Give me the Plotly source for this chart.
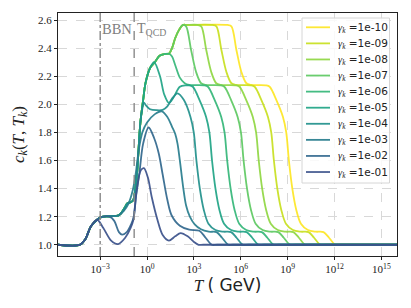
import plotly.graph_objects as go

# ---- data (x values are log10(T / GeV)) ----
gammas = ["1e-10", "1e-09", "1e-08", "1e-07", "1e-06", "1e-05", "1e-04", "1e-03", "1e-02", "1e-01"]
colors = ["#fde725", "#c8e020", "#90d743", "#5ec962", "#35b779",
          "#20a486", "#21918c", "#287d8e", "#31688e", "#3b528b"]

start_x = [-5.7, -4.3, -3.95, -3.6, -3.2]
start_y = [1.0, 1.0, 1.04, 1.13, 1.178]
plat_x = [-2.9, -2.4, -1.8]
plat_y = [1.198, 1.203, 1.21]
step_x = [-1.5, -1.25, -1.05, -0.88, -0.75, -0.64, -0.43]
step_y = [1.25, 1.295, 1.302, 1.32, 1.40, 1.51, 1.866]
rise_x = [-0.25, -0.1, 0.2, 0.5]
rise_y = [2.03, 2.15, 2.26, 2.30]
shelf_x = [0.8, 1.1, 1.4]
shelf_y = [2.345, 2.358, 2.36]
top_x = [1.6, 1.8, 2.05, 2.3]
top_y = [2.40, 2.47, 2.53, 2.565]

env_x = start_x + plat_x + step_x + rise_x + shelf_x + top_x
env_y = start_y + plat_y + step_y + rise_y + shelf_y + top_y

tail_y_long = [2.565, 2.565, 2.555, 2.387, 2.23, 2.15, 2.138, 2.135, 2.125, 2.03, 1.91,
               1.80, 1.6, 1.4, 1.25, 1.15, 1.105, 1.093, 1.09, 1.05, 1.0, 1.0, 1.0]

x_g10 = env_x + [2.55, 5.15, 5.4, 5.72, 6.04, 6.36, 6.65, 7.6, 7.85, 8.28, 8.7, 8.91, 9.08,
                 9.3, 9.55, 9.85, 10.3, 10.8, 11.3, 11.65, 12.05, 12.4, 16]
y_g10 = env_y + tail_y_long
x_g09 = env_x + [2.55, 4.19, 4.44, 4.76, 5.08, 5.40, 5.69, 6.64, 6.89, 7.32, 7.74, 7.95, 8.12,
                 8.34, 8.59, 8.89, 9.34, 9.84, 10.34, 10.69, 11.09, 11.44, 16]
y_g09 = env_y + tail_y_long
x_g08 = env_x + [2.55, 3.22, 3.47, 3.79, 4.11, 4.43, 4.72, 5.67, 5.92, 6.35, 6.77, 6.98, 7.15,
                 7.37, 7.62, 7.92, 8.37, 8.87, 9.37, 9.72, 10.12, 10.47, 16]
y_g08 = env_y + tail_y_long
x_g07 = env_x + [2.5, 2.82, 3.14, 3.46, 3.75, 4.7, 4.95, 5.38, 5.8, 6.01, 6.18, 6.4, 6.65,
                 6.95, 7.4, 7.9, 8.4, 8.75, 9.15, 9.5, 16]
y_g07 = env_y + [2.555, 2.387, 2.23, 2.15, 2.138, 2.135, 2.125, 2.03, 1.91, 1.80, 1.6, 1.4,
                 1.25, 1.15, 1.105, 1.093, 1.09, 1.05, 1.0, 1.0, 1.0]
x_g06 = start_x + plat_x + step_x + rise_x + shelf_x + [
    1.6, 1.8, 2.1, 2.41, 2.7, 3.65, 3.9, 4.33, 4.75, 4.96, 5.13, 5.35, 5.6, 5.9, 6.35,
    6.85, 7.35, 7.7, 8.1, 8.45, 16]
y_g06 = start_y + plat_y + step_y + rise_y + shelf_y + [
    2.34, 2.28, 2.19, 2.15, 2.138, 2.135, 2.125, 2.03, 1.91, 1.80, 1.6, 1.4, 1.25, 1.15,
    1.105, 1.093, 1.09, 1.05, 1.0, 1.0, 1.0]
x_g05 = start_x + plat_x + step_x + [-0.25, -0.1, 0.2, 0.45, 0.83, 1.1, 1.4, 1.7, 2.1, 2.5,
                                     2.68, 2.93, 3.36, 3.78, 3.99, 4.16, 4.38, 4.63, 4.93,
                                     5.38, 5.88, 6.38, 6.73, 7.13, 7.5, 16]
y_g05 = start_y + plat_y + step_y + [2.03, 2.15, 2.26, 2.30, 2.2, 2.07, 2.01, 2.05, 2.125,
                                     2.135, 2.135, 2.125, 2.03, 1.91, 1.80, 1.6, 1.4, 1.25,
                                     1.15, 1.105, 1.093, 1.09, 1.05, 1.0, 1.0, 1.0]
x_g04 = start_x + plat_x + step_x + [-0.3, -0.2, -0.05, 0.2, 0.6, 1.0, 1.3, 1.6, 1.95, 2.36,
                                     2.78, 2.99, 3.16, 3.38, 3.63, 3.93, 4.38, 4.88, 5.38,
                                     5.73, 6.13, 6.5, 16]
y_g04 = start_y + plat_y + step_y + [1.97, 2.012, 1.99, 1.965, 1.958, 1.96, 1.985, 2.04,
                                     2.078, 2.03, 1.91, 1.80, 1.6, 1.4, 1.25, 1.15, 1.105,
                                     1.093, 1.09, 1.05, 1.0, 1.0, 1.0]
x_g03 = start_x + plat_x + [-1.5, -1.2, -0.91, -0.72, -0.53, -0.3, 0.0, 0.5, 0.95, 1.3, 1.6,
                            1.8, 1.95, 2.1, 2.3, 2.5, 2.74, 3.05, 3.45, 3.95, 4.45, 4.8,
                            5.2, 5.5, 16]
y_g03 = start_y + plat_y + [1.24, 1.29, 1.39, 1.51, 1.676, 1.80, 1.87, 1.93, 1.95, 1.91,
                            1.84, 1.79, 1.72, 1.6, 1.42, 1.28, 1.2, 1.145, 1.11, 1.093,
                            1.09, 1.05, 1.0, 1.0, 1.0]
x_g02 = start_x + [-2.9, -2.4, -2.1, -1.8, -1.6, -1.3, -1.0, -0.87, -0.7, -0.49, -0.25, 0.1,
                   0.45, 0.75, 1.0, 1.3, 1.57, 2.1, 2.7, 3.35, 3.75, 4.15, 4.5, 16]
y_g02 = start_y + [1.198, 1.2, 1.17, 1.09, 1.072, 1.09, 1.15, 1.19, 1.35, 1.51, 1.72, 1.835,
                   1.76, 1.65, 1.5, 1.32, 1.21, 1.135, 1.107, 1.1, 1.05, 1.0, 1.0, 1.0]
x_g01 = start_x + [-2.8, -2.3, -1.85, -1.4, -1.05, -0.87, -0.66, -0.4, -0.2, 0.05, 0.3, 0.66,
                   1.0, 1.4, 1.8, 2.15, 2.6, 3.0, 3.3, 3.6, 16]
y_g01 = start_y + [1.12, 1.03, 1.005, 1.05, 1.12, 1.18, 1.39, 1.53, 1.545, 1.48, 1.34, 1.18,
                   1.07, 1.03, 1.06, 1.083, 1.06, 1.02, 1.0, 1.0, 1.0]

curves_x = [x_g10, x_g09, x_g08, x_g07, x_g06, x_g05, x_g04, x_g03, x_g02, x_g01]
curves_y = [y_g10, y_g09, y_g08, y_g07, y_g06, y_g05, y_g04, y_g03, y_g02, y_g01]

T_BBN = 1e-3
T_QCD = 0.15
y_range = [0.92, 2.65]
x_range_log = [-5.7, 16]
xtick_exp = [-3, 0, 3, 6, 9, 12, 15]
ytick_vals = [1.0, 1.2, 1.4, 1.6, 1.8, 2.0, 2.2, 2.4, 2.6]

serif = "Liberation Serif, DejaVu Serif, serif"

# ---- layout geometry (page body adds an 8px offset) ----
W, H = 403, 300
ML, MR, MT, MB = 50, 14, 5, 52
PW, PH = W - ML - MR, H - MT - MB


def px(x):  # window px -> paper x
    return (x - 8 - ML) / PW


def py(y):  # window px -> paper y
    return (H - MB - (y - 8)) / PH


fig = go.Figure()
for g, col, xs, ys in zip(gammas, colors, curves_x, curves_y):
    fig.add_trace(go.Scatter(
        x=[10 ** v for v in xs], y=ys, mode="lines",
        line=dict(color=col, width=1.8, shape="spline", smoothing=0.9),
        name="γk =" + g, opacity=0.92, showlegend=False))

fig.add_trace(go.Scatter(x=[T_BBN, T_BBN], y=y_range, mode="lines", showlegend=False,
                         line=dict(color="#8a8a8a", width=1.4, dash="dashdot"), hoverinfo="skip"))
fig.add_trace(go.Scatter(x=[T_QCD, T_QCD], y=y_range, mode="lines", showlegend=False,
                         line=dict(color="#8a8a8a", width=1.4, dash="dash"), hoverinfo="skip"))

fig.add_annotation(x=-3.0, y=2.535, xref="x", yref="y", text="BBN", showarrow=False,
                   xanchor="left", yanchor="middle",
                   font=dict(family=serif, size=14.5, color="#808080"))
fig.add_annotation(x=-0.76, y=2.535, xref="x", yref="y", text="T<sub>QCD</sub>", showarrow=False,
                   xanchor="left", yanchor="middle",
                   font=dict(family=serif, size=14, color="#808080"))

# ---- legend box drawn as shapes + text ----
fig.add_shape(type="rect", xref="paper", yref="paper",
              x0=px(302), x1=px(389.5), y0=py(183), y1=py(18),
              line=dict(color="#d6d6d6", width=1), fillcolor="rgba(255,255,255,0.85)",
              layer="above")
for i, (g, col) in enumerate(zip(gammas, colors)):
    yc = 27.3 + 16.08 * i
    fig.add_shape(type="line", xref="paper", yref="paper",
                  x0=px(306), x1=px(330), y0=py(yc), y1=py(yc),
                  line=dict(color=col, width=1.8), opacity=0.92, layer="above")
    fig.add_annotation(xref="paper", yref="paper", x=px(336), y=py(yc + 0.5),
                       xanchor="left", yanchor="middle", showarrow=False,
                       text="<span style='font-family:Liberation Serif'><i>γ<sub>k</sub></i></span> =" + g,
                       font=dict(family="DejaVu Sans, sans-serif", size=10.5, color="#222"))

fig.update_layout(
    width=W, height=H,
    margin=dict(l=ML, r=MR, t=MT, b=MB),
    paper_bgcolor="white", plot_bgcolor="white",
    font=dict(family=serif, size=11, color="#222"),
    showlegend=False,
)
fig.update_xaxes(type="log", range=x_range_log, automargin=False,
                 tickvals=[10.0 ** e for e in xtick_exp],
                 ticktext=["10<sup>%s</sup>" % (str(e).replace("-", "−")) for e in xtick_exp],
                 showline=True, linecolor="#222", linewidth=1, mirror=True,
                 ticks="outside", ticklen=3, tickcolor="#222",
                 showgrid=True, gridcolor="#d8d8d8", griddash="dash", gridwidth=0.8,
                 zeroline=False, tickfont=dict(family=serif, size=11),
                 title=dict(text="<i>T</i> <span style='font-family:DejaVu Sans'>( GeV)</span>",
                            font=dict(family=serif, size=17), standoff=4))
fig.update_yaxes(range=y_range, tickvals=ytick_vals, automargin=False,
                 ticktext=["%.1f" % v for v in ytick_vals],
                 showline=True, linecolor="#222", linewidth=1, mirror=True,
                 ticks="outside", ticklen=3, tickcolor="#222",
                 showgrid=True, gridcolor="#d8d8d8", griddash="dash", gridwidth=0.8,
                 zeroline=False, tickfont=dict(family=serif, size=11),
                 title=dict(text="<i>c<sub>k</sub></i>(<i>T</i>, <i>T<sub>k</sub></i>)",
                            font=dict(family=serif, size=17), standoff=9))

fig.write_html("out.html")
